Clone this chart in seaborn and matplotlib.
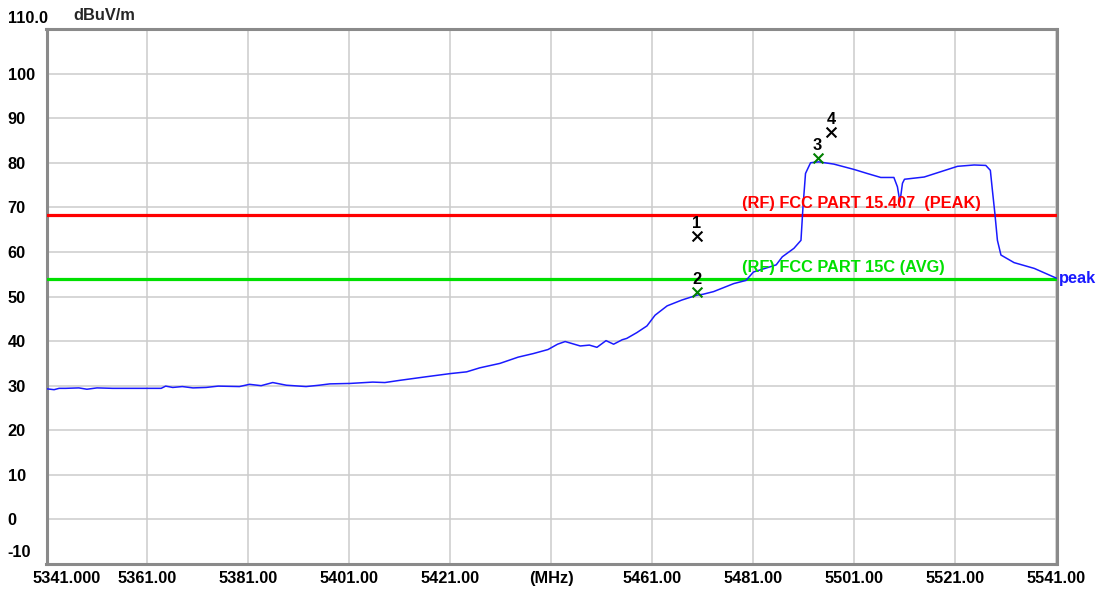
import numpy as np
import pandas as pd
import matplotlib
matplotlib.use("Agg")
import matplotlib.pyplot as plt
import matplotlib.transforms as mtransforms
import seaborn as sns

# trace (MHz, dBuV/m)
freq = [5341.0, 5342.5, 5343.5, 5344.8, 5347.4, 5349.0, 5351.0, 5354.1, 5363.7, 5364.6,
        5366.0, 5367.9, 5370.0, 5372.6, 5375.0, 5379.2, 5381.2, 5383.5, 5385.8, 5388.5,
        5392.4, 5395.0, 5397.1, 5401.1, 5405.6, 5408.0, 5411.0, 5416.2, 5420.9, 5424.2,
        5426.8, 5430.8, 5434.4, 5437.4, 5440.3, 5442.2, 5443.7, 5446.7, 5448.5, 5450.0,
        5451.8, 5453.3, 5455.0, 5455.9, 5457.9, 5459.9, 5461.5, 5463.9, 5466.8, 5469.8,
        5471.0, 5473.1, 5477.1, 5479.5, 5481.0, 5484.4, 5485.5, 5486.7, 5489.0, 5490.4,
        5490.8, 5491.3, 5492.3, 5493.9, 5496.9, 5500.9, 5503.5, 5506.2, 5508.8, 5509.5,
        5510.0, 5510.5, 5510.9, 5514.8, 5518.1, 5521.4, 5524.7, 5527.0, 5527.9, 5528.3,
        5528.8, 5529.3, 5530.0, 5532.6, 5536.6, 5541.0]
level = [29.3, 29.1, 29.4, 29.4, 29.5, 29.2, 29.5, 29.4, 29.4, 29.9,
         29.6, 29.8, 29.5, 29.6, 29.9, 29.8, 30.3, 30.0, 30.7, 30.1,
         29.8, 30.1, 30.4, 30.5, 30.8, 30.7, 31.2, 32.0, 32.7, 33.1,
         34.0, 35.0, 36.4, 37.2, 38.1, 39.3, 39.9, 38.9, 39.1, 38.6,
         40.1, 39.3, 40.3, 40.6, 41.9, 43.4, 45.8, 47.9, 49.2, 50.3,
         50.5, 51.1, 52.9, 53.6, 55.5, 56.7, 57.1, 58.9, 60.8, 62.6,
         70.1, 77.6, 80.0, 80.2, 79.7, 78.5, 77.6, 76.7, 76.7, 74.6,
         71.2, 75.4, 76.3, 76.8, 78.0, 79.2, 79.5, 79.4, 78.3, 73.9,
         68.6, 62.6, 59.3, 57.6, 56.3, 54.1]

# limit lines
limit_names = ["(RF) FCC PART 15.407  (PEAK)", "(RF) FCC PART 15C (AVG)"]
limit_values = [68.2, 54.0]
limit_colors = ["#ff0000", "#00e000"]

# markers
marker_ids = ["1", "2", "3", "4"]
marker_freq = [5469.8, 5469.8, 5493.7, 5496.4]
marker_level = [63.5, 50.9, 81.0, 86.8]
marker_colors = ["black", "#008000", "#008000", "black"]

x_ticks = [5341, 5361, 5381, 5401, 5421, 5441, 5461, 5481, 5501, 5521, 5541]
x_labels = ["5341.000", "5361.00", "5381.00", "5401.00", "5421.00", "(MHz)",
            "5461.00", "5481.00", "5501.00", "5521.00", "5541.00"]
y_ticks = [-10, 0, 10, 20, 30, 40, 50, 60, 70, 80, 90, 100, 110]
y_labels = ["-10", "0", "10", "20", "30", "40", "50", "60", "70", "80", "90", "100", "110.0"]

FS = 11.8

sns.set_theme(style="white")
plt.rcParams["font.family"] = ["Liberation Sans", "DejaVu Sans"]
plt.rcParams["font.weight"] = "bold"

fig = plt.figure(figsize=(11, 5.89), dpi=100)
ax = fig.add_axes([46.5 / 1100, 1 - 564 / 589, 1010 / 1100, 535 / 589])

df = pd.DataFrame({"freq": freq, "level": level})
sns.lineplot(data=df, x="freq", y="level", ax=ax, color="#1a1aff", lw=1.1,
             estimator=None, sort=False, zorder=4)

for name, val, col in zip(limit_names, limit_values, limit_colors):
    ax.axhline(val, color=col, lw=2.3, zorder=3)
    ax.annotate(name, xy=(5478.8, val), xytext=(0, 3), textcoords="offset points",
                color=col, fontsize=FS, fontweight="bold", ha="left", va="bottom", zorder=5)

mk = pd.DataFrame({"f": marker_freq, "v": marker_level, "id": marker_ids})
for i, row in mk.iterrows():
    sns.scatterplot(x=[row.f], y=[row.v], ax=ax, marker="x", s=50, color=marker_colors[i],
                    linewidth=1.5, zorder=6)
    ax.annotate(row.id, xy=(row.f, row.v), xytext=(0, 4), textcoords="offset points",
                ha="center", va="bottom", fontsize=FS, fontweight="bold", color="black")

ax.annotate("peak", xy=(5541, level[-1]), xytext=(2, 0), textcoords="offset points",
            color="#1a1aff", fontsize=FS, fontweight="bold", ha="left", va="center",
            annotation_clip=False)

ax.set_xlim(5341, 5541)
ax.set_ylim(-10, 110)
ax.set_xticks(x_ticks)
ax.set_xticklabels(x_labels, fontsize=FS, fontweight="bold")
ax.set_yticks(y_ticks)
ax.set_yticklabels(y_labels, fontsize=FS, fontweight="bold")
ax.set_xlabel("")
ax.set_ylabel("")
ax.tick_params(axis="both", length=0, colors="black")
ax.tick_params(axis="y", pad=28)
ax.tick_params(axis="x", pad=5)
for lab in ax.get_yticklabels():
    lab.set_horizontalalignment("left")

ax.grid(True, color="#cccccc", lw=1.1)
for s in ax.spines.values():
    s.set_color("#8a8a8a")
    s.set_linewidth(2.2)

# nudge the end labels the way the analyser draws them
ylabs = ax.get_yticklabels()
ylabs[0].set_transform(ylabs[0].get_transform() + mtransforms.ScaledTranslation(0, 13 / 100, fig.dpi_scale_trans))
ylabs[-1].set_transform(ylabs[-1].get_transform() + mtransforms.ScaledTranslation(0, 12 / 100, fig.dpi_scale_trans))
xlabs = ax.get_xticklabels()
xlabs[0].set_transform(xlabs[0].get_transform() + mtransforms.ScaledTranslation(20 / 100, 0, fig.dpi_scale_trans))

ax.text(73 / 1100, 1 - 15 / 589, "dBuV/m", transform=fig.transFigure, fontsize=FS,
        fontweight="bold", ha="left", va="center")

fig.savefig("out.png", dpi=100)
